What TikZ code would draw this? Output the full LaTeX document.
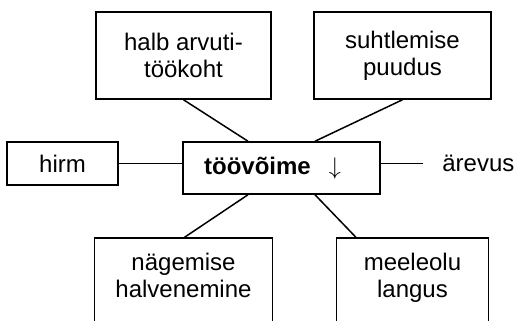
\documentclass[tikz,border=0pt]{standalone}
\usepackage{fontspec}
\setmainfont{Liberation Sans}
\usetikzlibrary{positioning, calc}

\begin{document}
\begin{tikzpicture}[%
		x=0.5pt, y=-0.5pt,
		factor/.style={
			rectangle,
			draw,
			line width=0.75pt,
			align=center,
			inner sep=0pt,
			font=\fontsize{12}{13.5}\selectfont
		},
		openfactor/.style={
			rectangle,
			anchor=north,
			align=center,
			inner xsep=0pt,
			inner ysep=7.5pt,
			font=\fontsize{12}{13.5}\selectfont
		},
		loose/.style={
			anchor=west,
			inner xsep=9.5pt,
			inner ysep=0pt,
			font=\fontsize{12}{13.5}\selectfont
		},
		link/.style={
			line width=0.75pt
		}]

		\useasboundingbox (0,0) rectangle (516,321);
		\clip (0,0) rectangle (516,321);

		% FACTORS

		\node (workplace) [factor, minimum width=87.5pt, minimum height=43.5pt] at (183.5,55.5) {halb arvuti-\\töökoht};
		\node (contact) [factor, minimum width=88.5pt, minimum height=43.5pt] at (402.5,55.5) {suhtlemise\\puudus};
		\node (fear) [factor, minimum width=55.5pt, minimum height=21.5pt] at (62.5,163.5) {hirm};
		\node (ability) [factor, minimum width=98.5pt, minimum height=26pt] at (281.5,168) {\bfseries töövõime\hspace{9pt}$\downarrow$\hspace*{9pt}};
		\node (anxiety) [loose] at (423,163.5) {ärevus};
		\node (sight) [openfactor, minimum width=88.5pt] at (183.5,238) {nägemise\\halvenemine};
		\node (mood) [openfactor, minimum width=75.5pt] at (412.5,238) {meeleolu\\langus};

		% OPEN FRAMES

		\foreach \n in {sight, mood}
			\draw[link] ([yshift=-60pt]\n.north west) -- (\n.north west) -- (\n.north east) -- ([yshift=-60pt]\n.north east);

		% LINES

		\draw[link] (workplace.south) -- ([xshift=-16.75pt]ability.north);
		\draw[link] (contact.south) -- ([xshift=16.75pt]ability.north);
		\draw[link] ([xshift=-16.75pt]ability.south) -- (sight.north);
		\draw[link] ([xshift=16.75pt]ability.south) -- ([xshift=10pt]mood.north west);
		\draw[link] (fear.east) -- (fear.east -| ability.west);
		\draw[link] (anxiety.west -| ability.east) -- (anxiety.west);
\end{tikzpicture}
\end{document}
